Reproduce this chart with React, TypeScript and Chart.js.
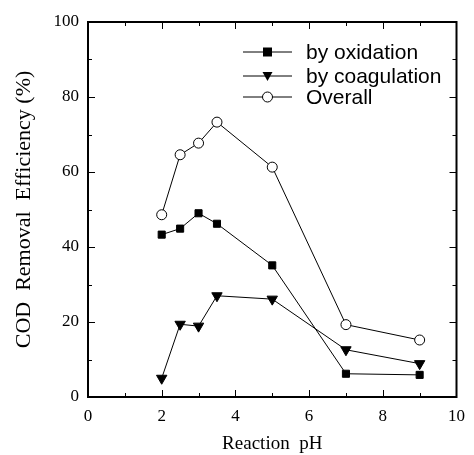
import React, { useEffect, useRef } from "react";
import { Chart, registerables } from "chart.js";

Chart.register(...registerables);

const phValues = [2, 2.5, 3, 3.5, 5, 7, 9];
const oxidation = [43.3, 44.9, 49.0, 46.2, 35.1, 6.2, 5.9];
const coagulation = [5.0, 19.4, 18.9, 27.0, 26.1, 12.6, 8.9];
const overall = [48.6, 64.6, 67.7, 73.3, 61.3, 19.3, 15.2];
const seriesNames = ["by oxidation", "by coagulation", "Overall"];
const xTickLabels = ["0", "2", "4", "6", "8", "10"];
const yTickLabels = ["0", "20", "40", "60", "80", "100"];

const SERIF = "'Liberation Serif', 'Times New Roman', serif";
const SANS = "'Liberation Sans', Arial, sans-serif";

const toPoints = (ys: number[]) => phValues.map((x, i) => ({ x, y: ys[i] }));

function drawAll(chart: any) {
  const ctx: CanvasRenderingContext2D = chart.ctx;
  const { left, top, right, bottom } = chart.chartArea;
  const xs = chart.scales.x;
  const ys = chart.scales.y;
  ctx.save();
  ctx.strokeStyle = "#000";
  // frame
  ctx.lineWidth = 2;
  ctx.strokeRect(left, top, right - left, bottom - top);
  // inward ticks
  ctx.lineWidth = 1;
  ctx.beginPath();
  for (let v = 1; v < 10; v += 1) {
    const px = Math.round(xs.getPixelForValue(v)) + 0.5;
    const len = v % 2 === 0 ? 7 : 4;
    ctx.moveTo(px, bottom);
    ctx.lineTo(px, bottom - len);
    ctx.moveTo(px, top);
    ctx.lineTo(px, top + len);
  }
  for (let v = 10; v < 100; v += 10) {
    const py = Math.round(ys.getPixelForValue(v)) + 0.5;
    const len = v % 20 === 0 ? 7 : 4;
    ctx.moveTo(left, py);
    ctx.lineTo(left + len, py);
    ctx.moveTo(right, py);
    ctx.lineTo(right - len, py);
  }
  ctx.stroke();

  // legend
  const lx0 = left + 155;
  const lx1 = left + 204;
  const tx = left + 218;
  const rows = [top + 30, top + 54, top + 75];
  const styles = ["rect", "triangle", "circle"];
  ctx.font = `21px ${SANS}`;
  ctx.textBaseline = "middle";
  ctx.textAlign = "left";
  rows.forEach((ry, i) => {
    ctx.beginPath();
    ctx.lineWidth = 1;
    ctx.moveTo(lx0, ry);
    ctx.lineTo(lx1, ry);
    ctx.stroke();
    const cx = (lx0 + lx1) / 2;
    ctx.beginPath();
    if (styles[i] === "rect") {
      ctx.rect(cx - 4.5, ry - 4.5, 9, 9);
      ctx.fillStyle = "#000";
      ctx.fill();
    } else if (styles[i] === "triangle") {
      ctx.moveTo(cx - 5, ry - 4);
      ctx.lineTo(cx + 5, ry - 4);
      ctx.lineTo(cx, ry + 5);
      ctx.closePath();
      ctx.fillStyle = "#000";
      ctx.fill();
    } else {
      ctx.arc(cx, ry, 5, 0, Math.PI * 2);
      ctx.fillStyle = "#fff";
      ctx.fill();
      ctx.stroke();
    }
    ctx.fillStyle = "#000";
    ctx.fillText(seriesNames[i], tx, ry + 1);
  });
  ctx.restore();
}

const frameAndLegend = {
  id: "frameAndLegend",
  afterDraw(chart: any) {
    drawAll(chart);
  },
};

export default function App() {
  const ref = useRef<HTMLCanvasElement>(null);
  useEffect(() => {
    document.body.style.margin = "0";
    const canvas = ref.current!;
    const chart = new Chart(canvas, {
      type: "scatter",
      data: {
        datasets: [
          {
            label: seriesNames[0],
            data: toPoints(oxidation),
            showLine: true,
            borderColor: "#000",
            borderWidth: 1,
            backgroundColor: "#000",
            pointStyle: "rect",
            pointRadius: 5,
            pointBorderColor: "#000",
            pointBackgroundColor: "#000",
          },
          {
            label: seriesNames[1],
            data: toPoints(coagulation),
            showLine: true,
            borderColor: "#000",
            borderWidth: 1,
            backgroundColor: "#000",
            pointStyle: "triangle",
            rotation: 180,
            pointRadius: 6,
            pointBorderColor: "#000",
            pointBackgroundColor: "#000",
          },
          {
            label: seriesNames[2],
            data: toPoints(overall),
            showLine: true,
            borderColor: "#000",
            borderWidth: 1,
            backgroundColor: "#fff",
            pointStyle: "circle",
            pointRadius: 5,
            pointBorderColor: "#000",
            pointBackgroundColor: "#fff",
            pointBorderWidth: 1,
          },
        ],
      },
      options: {
        animation: false,
        responsive: false,
        devicePixelRatio: 1,
        layout: { padding: { left: 0, top: 22, right: 9, bottom: 0 } },
        plugins: { legend: { display: false }, tooltip: { enabled: false } },
        scales: {
          x: {
            type: "linear",
            min: 0,
            max: 10,
            afterFit: (s: any) => {
              s.height = 58;
            },
            afterBuildTicks: (s: any) => {
              s.ticks = xTickLabels.map((t) => ({ value: Number(t) }));
            },
            grid: { display: false, drawTicks: false },
            border: { display: true, color: "#000", width: 1.5 },
            ticks: {
              color: "#000",
              padding: 9,
              font: { family: SERIF, size: 17 },
              maxRotation: 0,
              callback: (v: any) => String(v),
            },
            title: {
              display: true,
              text: "Reaction  pH",
              color: "#000",
              font: { family: SERIF, size: 19 },
              padding: { top: 1, bottom: 0 },
            },
          },
          y: {
            type: "linear",
            min: 0,
            max: 100,
            afterFit: (s: any) => {
              s.width = 88;
            },
            afterBuildTicks: (s: any) => {
              s.ticks = yTickLabels.map((t) => ({ value: Number(t) }));
            },
            grid: { display: false, drawTicks: false },
            border: { display: true, color: "#000", width: 1.5 },
            ticks: {
              color: "#000",
              padding: 9,
              font: { family: SERIF, size: 17 },
              callback: (v: any) => String(v),
            },
            title: {
              display: true,
              text: "COD  Removal  Efficiency (%)",
              color: "#000",
              font: { family: SERIF, size: 22 },
              padding: { top: 11, bottom: 0 },
            },
          },
        },
      },
      plugins: [frameAndLegend],
    } as any);
    return () => chart.destroy();
  }, []);
  return (
    <div style={{ position: "relative", width: 474, height: 455, background: "#fff" }}>
      <canvas ref={ref} width={474} height={455} style={{ width: 474, height: 455, display: "block" }} />
    </div>
  );
}
